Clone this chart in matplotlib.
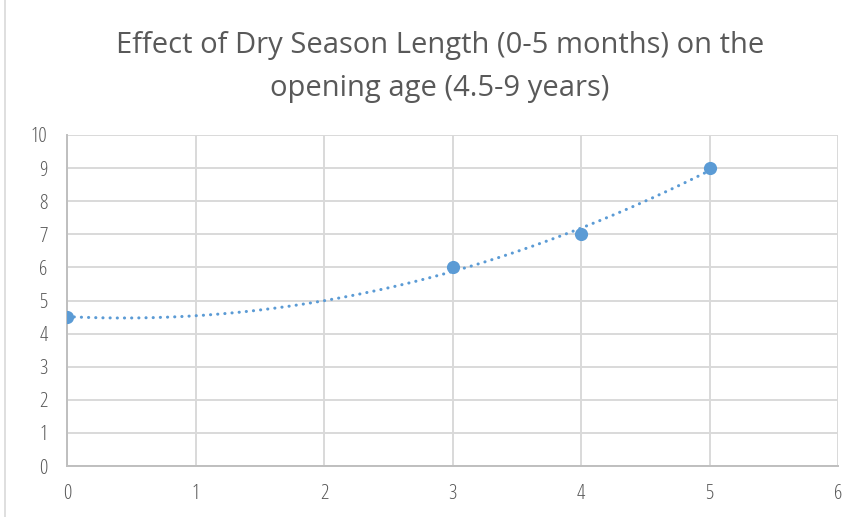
import numpy as np
import matplotlib
matplotlib.use("Agg")
import matplotlib.pyplot as plt
from matplotlib.patches import Rectangle

dry_season_months = [0, 3, 4, 5]
opening_age_years = [4.5, 6, 7, 9]
x_ticks = [0, 1, 2, 3, 4, 5, 6]
y_ticks = [0, 1, 2, 3, 4, 5, 6, 7, 8, 9, 10]
title = "Effect of Dry Season Length (0-5 months) on the\nopening age (4.5-9 years)"

blue = "#5B9BD5"
grid_c = "#D9D9D9"
text_c = "#595959"

fig = plt.figure(figsize=(8.61, 5.17), dpi=100)
fig.patch.set_facecolor("white")
fig.add_artist(Rectangle((0.006, -0.01), 1.2, 1.2, transform=fig.transFigure,
                         fill=False, edgecolor="#D9D9D9", linewidth=1.2))

ax = fig.add_axes([67/861, (517-466)/517, (838-67)/861, (466-135)/517])

coef = np.polyfit(dry_season_months, opening_age_years, 2)
xt = np.linspace(min(dry_season_months), max(dry_season_months), 300)
ax.plot(xt, np.polyval(coef, xt), linestyle=(0, (0.05, 2.3)), dash_capstyle="round",
        color=blue, linewidth=2.2, zorder=3)
ax.plot(dry_season_months, opening_age_years, "o", color=blue, markersize=9.5,
        markeredgewidth=0, zorder=4)

ax.set_xlim(0, 6)
ax.set_ylim(0, 10)
ax.set_xticks(x_ticks)
ax.set_yticks(y_ticks)
ax.grid(True, color=grid_c, linewidth=1.4)
ax.set_axisbelow(True)
for s in ["top", "right"]:
    ax.spines[s].set_visible(False)
for s in ["left", "bottom"]:
    ax.spines[s].set_color("#BFBFBF")
    ax.spines[s].set_linewidth(1.4)
ax.tick_params(length=0, labelsize=15, labelcolor=text_c)
ax.tick_params(axis="y", pad=14)
ax.tick_params(axis="x", pad=13)
for lab in ax.get_xticklabels() + ax.get_yticklabels():
    lab.set_fontfamily(["Open Sans"])
    lab.set_fontstretch("condensed")

fig.text(440/861, 1 - 67/517, title, ha="center", va="center", fontsize=21,
         color=text_c, family="Open Sans", linespacing=1.65)

fig.savefig("out.png", dpi=100, facecolor="white")
